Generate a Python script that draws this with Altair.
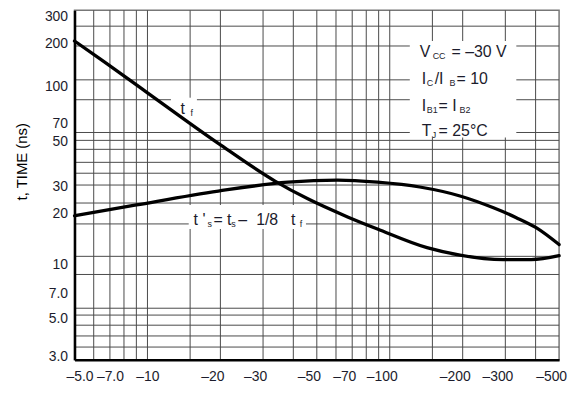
import altair as alt
import pandas as pd

# ---------------- data ----------------
X_TICKS = [5, 7, 10, 20, 30, 50, 70, 100, 200, 300, 500]          # |I_C| (shown as negative)
Y_TICKS = [3, 5, 7, 10, 20, 30, 50, 70, 100, 200, 300]            # time, ns
X_GRID = [6, 7, 8, 9, 10, 15, 20, 30, 40, 50, 60, 70, 80, 90, 100, 150, 200, 300, 400]
Y_GRID = [263, 201, 127, 97, 62.2, 55.9, 49.5, 41.5, 35.8, 30.5, 23.9, 18.0, 11.6, 9.07,
          5.74, 5.23, 4.56, 3.94, 3.39]

TF_X = [5, 6.33, 9.87, 19.6, 33.6, 45.9, 67, 89, 142.5, 195, 294, 384, 500]
TF_Y = [215, 170, 108, 53.7, 32.2, 25.3, 19.8, 16.8, 13.05, 11.8, 11.1, 11.1, 11.7]

TS_X = [5, 9.0, 19.6, 38, 61, 89, 133, 195, 268, 333, 402, 500]
TS_Y = [20.1, 23.3, 28.1, 31.7, 32.6, 31.7, 29.7, 26.3, 22.4, 19.6, 17.1, 13.6]

COND_LINES = [
    [("V", "main"), ("CC", "sub"), ("= –30 V", "main")],
    [("I", "main"), ("C", "sub"), ("/I", "main"), ("B", "sub"), ("= 10", "main")],
    [("I", "main"), ("B1", "sub"), ("= I", "main"), ("B2", "sub")],
    [("T", "main"), ("J", "sub"), ("= 25°C", "main")],
]
TF_LABEL = [("t", "main"), ("f", "sub")]
TS_LABEL = [("t '", "main"), ("s", "sub"), ("= t", "main"), ("s", "sub"),
            ("–", "main"), ("1/8", "main"), ("t", "main"), ("f", "sub")]

Y_TITLE = "t, TIME (ns)"

# ---------------- layout / style ----------------
FONT = "Liberation Sans"
TXT = "#1c1c2c"
GRID = "#4a4a4a"
W, H = 488, 352

xs = alt.Scale(type="log", domain=[5, 500], nice=False)
ys = alt.Scale(type="log", domain=[2.85, 326], nice=False)

x_label_offset = {"condition": [{"test": "datum.value < 6", "value": 5},
                                {"test": "datum.value < 11", "value": 0}],
                  "value": -8}
y_label_offset = {"condition": [{"test": "datum.value == 100", "value": -11},
                                {"test": "datum.value == 50", "value": -7},
                                {"test": "datum.value == 10 || datum.value == 20 || datum.value == 200",
                                 "value": -3}],
                  "value": 0}

x_axis = alt.Axis(values=X_TICKS,
                  labelExpr="'–' + (datum.value < 10 ? format(datum.value, '.1f') : format(datum.value, 'd'))",
                  ticks=False, grid=False, domain=True, domainColor="black", domainWidth=2.5,
                  labelFont=FONT, labelFontSize=14, labelColor=TXT, labelPadding=10,
                  labelOffset=x_label_offset,
                  labelOverlap=False, labelFlush=False, labelBound=False, title=None, zindex=1)
y_axis = alt.Axis(values=Y_TICKS,
                  labelExpr="datum.value < 10 ? format(datum.value, '.1f') : format(datum.value, 'd')",
                  ticks=False, grid=False, domain=True, domainColor="black", domainWidth=2.5,
                  labelFont=FONT, labelFontSize=14, labelColor=TXT, labelPadding=7,
                  labelOffset=y_label_offset,
                  labelOverlap=False, labelFlush=False, labelBound=False,
                  title=Y_TITLE, titleFont=FONT, titleFontSize=15, titleFontWeight="normal",
                  titleColor="black", titleX=-53, titleY=152, titleAngle=270,
                  titleAlign="center", titleBaseline="middle", zindex=1)


def X(field):
    return alt.X(field, type="quantitative", scale=xs, axis=x_axis)


def Y(field):
    return alt.Y(field, type="quantitative", scale=ys, axis=y_axis)


layers = []

# grid
layers.append(alt.Chart(pd.DataFrame({"gx": X_GRID})).mark_rule(color=GRID, strokeWidth=1)
              .encode(x=X("gx")))
layers.append(alt.Chart(pd.DataFrame({"gy": Y_GRID})).mark_rule(color=GRID, strokeWidth=1)
              .encode(y=Y("gy")))

# white boxes behind annotations
boxes = pd.DataFrame({"bx1": [121, 12.5, 14.8], "bx2": [333, 16.0, 45.1],
                      "by1": [215, 99.7, 23.3], "by2": [58.2, 70.3, 16.8]})
layers.append(alt.Chart(boxes).mark_rect(color="#ffffff", opacity=1)
              .encode(x=X("bx1"), x2=alt.X2("bx2"), y=Y("by1"), y2=alt.Y2("by2")))

# curves
curves = pd.DataFrame({"x": TF_X + TS_X, "y": TF_Y + TS_Y,
                       "series": ["tf"] * len(TF_X) + ["ts"] * len(TS_X)})
layers.append(alt.Chart(curves).mark_line(color="black", strokeWidth=3.3, interpolate="monotone",
                                          strokeCap="round")
              .encode(x=X("x"), y=Y("y"), detail="series:N"))


# annotation text pieces
def add_pieces(pieces, ax, ay, offsets):
    for (txt, kind), dx in zip(pieces, offsets):
        sub = kind == "sub"
        df = pd.DataFrame({"ax": [ax], "ay": [ay], "t": [txt]})
        layers.append(alt.Chart(df).mark_text(align="left", baseline="alphabetic",
                                              font=FONT, fontSize=9 if sub else 16,
                                              color=TXT, dx=dx, dy=2 if sub else 0)
                      .encode(x=X("ax"), y=Y("ay"), text="t:N"))


cond_y = [173, 120, 83.7, 59.0]
cond_dx = [[0, 13, 32], [2, 7, 15, 30, 37], [2, 7, 19, 40], [2, 12, 19]]
for line, yv, dxs in zip(COND_LINES, cond_y, cond_dx):
    add_pieces(line, 133, yv, dxs)
add_pieces(TF_LABEL, 13.7, 80.4, [0, 10])
add_pieces(TS_LABEL, 15.5, 17.8, [0, 14, 20, 38, 45, 63, 98, 107])

chart = alt.layer(*layers).properties(
    width=W, height=H,
    autosize=alt.AutoSizeParams(type="none"),
    padding={"left": 67, "top": 1, "right": 12, "bottom": 27},
    background="white",
).configure_view(stroke="#777777", strokeWidth=1.5)

chart.save("out.html", embed_options={"renderer": "svg", "actions": False})
